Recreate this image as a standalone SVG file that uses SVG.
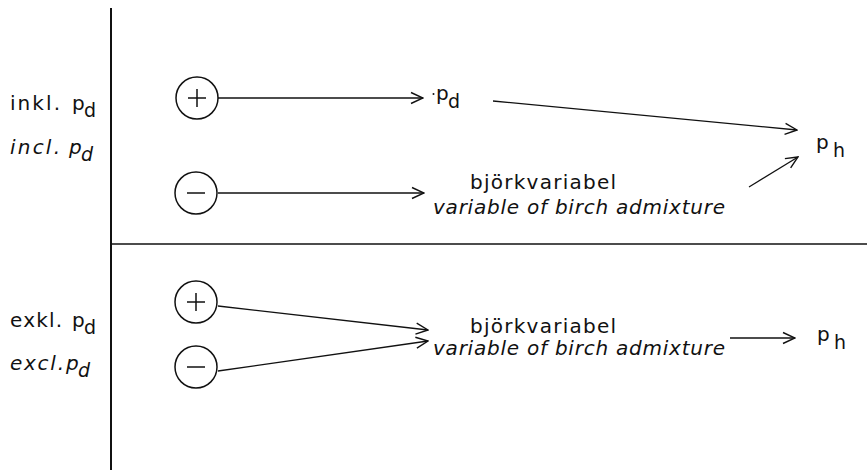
<svg xmlns="http://www.w3.org/2000/svg" width="867" height="473" viewBox="0 0 867 473">
  <defs>
    <marker id="open" viewBox="0 0 14 14" refX="13" refY="7" markerWidth="14" markerHeight="14" markerUnits="userSpaceOnUse" orient="auto">
      <path d="M1,1.5 L13,7 L1,12.5" fill="none" stroke="#111" stroke-width="1.4"/>
    </marker>
  </defs>
  <style>
    text { font-family: "DejaVu Sans", "Liberation Sans", sans-serif; fill: #111; }
    .lbl { font-size: 20px; }
    .it { font-style: italic; }
    .sub { font-size: 19px; }
    .node circle { fill: none; stroke: #111; stroke-width: 1.5; }
    .node path { fill: none; stroke: #111; stroke-width: 1.5; }
    .frame { stroke: #111; fill: none; }
    .edge { stroke: #111; stroke-width: 1.3; fill: none; marker-end: url(#open); }
  </style>
  <rect width="867" height="473" fill="#fff"/>

  <!-- frame: vertical divider and horizontal split -->
  <line class="frame" x1="111" y1="8" x2="111" y2="470" stroke-width="2"/>
  <line class="frame" x1="111" y1="244" x2="867" y2="244" stroke-width="1.6"/>

  <!-- row labels -->
  <g id="label-inkl">
    <text class="lbl" x="10" y="110"><tspan textLength="50" lengthAdjust="spacing">inkl.</tspan><tspan x="72">p</tspan><tspan class="sub" x="84" y="117">d</tspan></text>
  </g>
  <g id="label-incl">
    <text class="lbl it" x="10" y="154"><tspan textLength="50" lengthAdjust="spacing">incl.</tspan><tspan x="69">p</tspan><tspan class="sub" x="81" y="161">d</tspan></text>
  </g>
  <g id="label-exkl">
    <text class="lbl" x="10" y="327"><tspan textLength="52" lengthAdjust="spacing">exkl.</tspan><tspan x="72">p</tspan><tspan class="sub" x="84" y="334">d</tspan></text>
  </g>
  <g id="label-excl">
    <text class="lbl it" x="10" y="370"><tspan textLength="54" lengthAdjust="spacing">excl.</tspan><tspan x="66">p</tspan><tspan class="sub" x="78" y="377">d</tspan></text>
  </g>

  <!-- sign nodes -->
  <g id="plus-top" class="node">
    <circle cx="197" cy="98" r="21"/>
    <path d="M188,98 H206 M197,89 V107"/>
  </g>
  <g id="minus-top" class="node">
    <circle cx="196" cy="193" r="21"/>
    <path d="M187,193 H205"/>
  </g>
  <g id="plus-bottom" class="node">
    <circle cx="196" cy="302" r="21"/>
    <path d="M187,302 H205 M196,293 V311"/>
  </g>
  <g id="minus-bottom" class="node">
    <circle cx="196" cy="367" r="21"/>
    <path d="M187,367 H205"/>
  </g>

  <!-- target nodes -->
  <g id="pd-top">
    <circle cx="433.5" cy="94" r="1" fill="#111"/>
    <text class="lbl" x="436" y="100">p<tspan class="sub" x="448" y="108">d</tspan></text>
  </g>
  <g id="birch-top">
    <text class="lbl" x="470" y="189" textLength="146" lengthAdjust="spacing">björkvariabel</text>
    <text class="lbl it" x="433" y="214" textLength="292" lengthAdjust="spacing">variable of birch admixture</text>
  </g>
  <g id="ph-top">
    <text class="lbl" x="816" y="149">p<tspan class="sub" x="833" y="157">h</tspan></text>
  </g>
  <g id="birch-bottom">
    <text class="lbl" x="470" y="333" textLength="146" lengthAdjust="spacing">björkvariabel</text>
    <text class="lbl it" x="433" y="355" textLength="292" lengthAdjust="spacing">variable of birch admixture</text>
  </g>
  <g id="ph-bottom">
    <text class="lbl" x="817" y="341">p<tspan class="sub" x="834" y="349">h</tspan></text>
  </g>

  <!-- connectors -->
  <g id="connectors">
    <line class="edge" x1="218" y1="98" x2="423" y2="98"/>
    <line class="edge" x1="218" y1="193" x2="424" y2="193"/>
    <line class="edge" x1="493" y1="101" x2="797" y2="130"/>
    <line class="edge" x1="749" y1="187" x2="798" y2="157"/>
    <line class="edge" x1="218" y1="306" x2="428" y2="330"/>
    <line class="edge" x1="218" y1="371" x2="428" y2="341"/>
    <line class="edge" x1="730" y1="338" x2="795" y2="338"/>
  </g>
</svg>
